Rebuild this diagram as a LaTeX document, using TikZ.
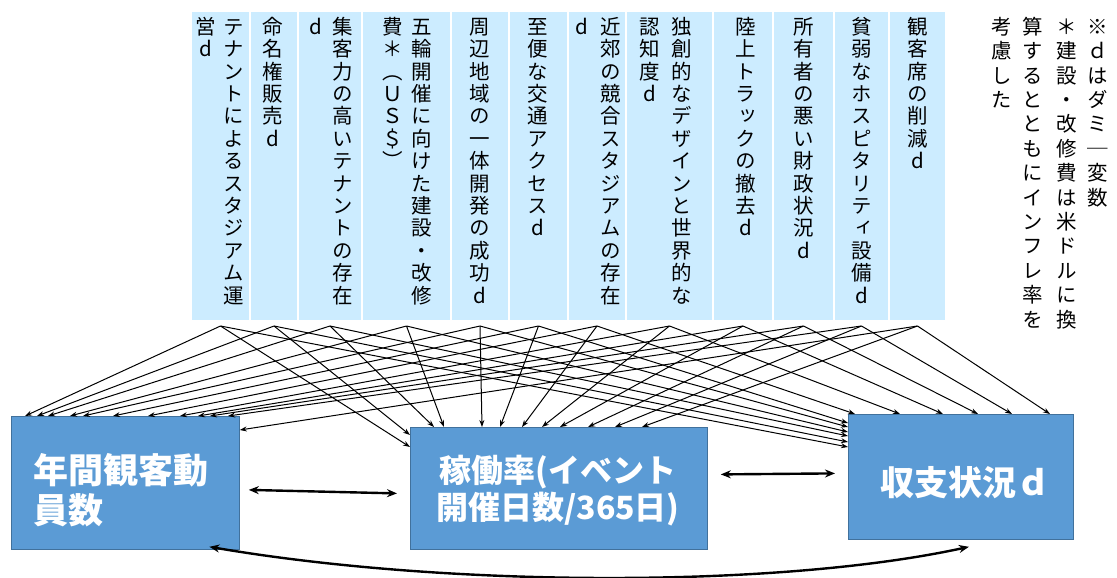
\documentclass[tikz,border=0pt]{standalone}
\usepackage{fontspec}
\setmainfont{Noto Sans CJK JP}
\newfontfamily\vjp[RawFeature=+vert]{Noto Sans CJK JP}
\usetikzlibrary{arrows.meta}
\definecolor{colblue}{RGB}{204,236,255}
\definecolor{boxblue}{RGB}{91,155,213}
\definecolor{boxedge}{RGB}{65,113,156}
\def\tateend{TATEEND}
\def\tateloop#1{\ifx\tateend#1\else\hbox to 1em{\hss\vrule height .88em depth .12em width 0pt\relax#1\hss}\expandafter\tateloop\fi}
\newcommand\tate[2][22.4pt]{\vtop{\baselineskip=#1\relax\lineskiplimit=-\maxdimen\lineskip=0pt\tateloop#2\tateend}}
\tikzset{
  colbox/.style={fill=colblue, draw=white, line width=2pt, inner sep=0pt, anchor=north west, minimum height=310pt},
  vt/.style={inner sep=0pt, anchor=north, font=\vjp\fontsize{20.5}{22}\selectfont},
  mainbox/.style={fill=boxblue, draw=boxedge, line width=0.8pt, inner sep=0pt, anchor=north west},
  boxtext/.style={text=white, inner sep=0pt},
  thinarr/.style={-{Stealth[length=7pt,width=5pt]}, line width=1pt},
  bigarr/.style={{Stealth[length=10pt,width=8pt]}-{Stealth[length=10pt,width=8pt]}, line width=2.4pt},
}
\begin{document}
\begin{tikzpicture}[x=1pt,y=-1pt]
\useasboundingbox (0,0) rectangle (1117,578);
% columns
\node[colbox,minimum width=59pt] (c1) at (190,10) {};
\node[colbox,minimum width=48pt] (c2) at (249,10) {};
\node[colbox,minimum width=64pt] (c3) at (297,10) {};
\node[colbox,minimum width=89pt] (c4) at (361,10) {};
\node[colbox,minimum width=58pt] (c5) at (450,10) {};
\node[colbox,minimum width=59pt] (c6) at (508,10) {};
\node[colbox,minimum width=58pt] (c7) at (567,10) {};
\node[colbox,minimum width=87pt] (c8) at (625,10) {};
\node[colbox,minimum width=60pt] (c9) at (712,10) {};
\node[colbox,minimum width=61pt] (c10) at (772,10) {};
\node[colbox,minimum width=55pt] (c11) at (833,10) {};
\node[colbox,minimum width=57pt] (c12) at (888,10) {};
% column texts
\node[vt] (t1a) at (234,16) {\tate{テナントによるスタジアム運}};
\node[vt] (t1b) at (206,16) {\tate{営d}};
\node[vt] (t2) at (273,16) {\tate{命名権販売d}};
\node[vt] (t3a) at (343,16) {\tate{集客力の高いテナントの存在}};
\node[vt] (t3b) at (316,16) {\tate{d}};
\node[vt] (t4a) at (422,16) {\tate{五輪開催に向けた建設・改修}};
\node[vt] (t4b) at (393,16) {\tate{費＊︵ＵＳ＄︶}};
\node[vt] (t5) at (480,16) {\tate{周辺地域の一体開発の成功d}};
\node[vt] (t6) at (538,16) {\tate{至便な交通アクセスd}};
\node[vt] (t7a) at (611,16) {\tate{近郊の競合スタジアムの存在}};
\node[vt] (t7b) at (582,16) {\tate{d}};
\node[vt] (t8a) at (682,16) {\tate{独創的なデザインと世界的な}};
\node[vt] (t8b) at (650,16) {\tate{認知度d}};
\node[vt] (t9) at (746,16) {\tate{陸上トラックの撤去d}};
\node[vt] (t10) at (804,16) {\tate{所有者の悪い財政状況d}};
\node[vt] (t11) at (862,16) {\tate{貧弱なホスピタリティ設備d}};
\node[vt] (t12) at (918,16) {\tate{観客席の削減d}};
% note
\node[vt] (n1) at (1098,16) {\tate[24.4pt]{※ｄはダミ｜変数}};
\node[vt] (n2) at (1067,16) {\tate[24.4pt]{＊建設・改修費は米ドルに換}};
\node[vt] (n3) at (1033,16) {\tate[24.4pt]{算するとともにインフレ率を}};
\node[vt] (n4) at (1002,16) {\tate[24.4pt]{考慮した}};
% main boxes
\node[mainbox,minimum width=228pt,minimum height=133pt] (A) at (11,416) {};
\node[mainbox,minimum width=297pt,minimum height=122pt] (B) at (410,427) {};
\node[mainbox,minimum width=225pt,minimum height=125pt] (C) at (848,414) {};
\node[boxtext,anchor=west,align=left,font=\bfseries\fontsize{35}{40}\selectfont] (At) at (33,490) {年間観客動\\員数};
\node[boxtext,align=center,font=\bfseries\fontsize{32}{37}\selectfont] (Bt) at (558,491) {稼働率(イベント\\開催日数/365日)};
\node[boxtext,font=\bfseries\fontsize{34}{40}\selectfont] (Ct) at (965,483) {収支状況ｄ};
% origins
\foreach \i in {1,...,12} { \coordinate (o\i) at ([yshift=-4pt]c\i.south); }
% endpoints at A
\coordinate (a1) at ([xshift=14pt]A.north west);
\coordinate (a2) at ([xshift=26pt]A.north west);
\coordinate (a3) at ([xshift=37pt]A.north west);
\coordinate (a4) at ([xshift=59pt]A.north west);
\coordinate (a5) at ([xshift=72pt]A.north west);
\coordinate (a6) at ([xshift=102pt]A.north west);
\coordinate (a7) at ([xshift=137pt]A.north west);
\coordinate (a8) at ([xshift=169pt]A.north west);
\coordinate (a9) at ([xshift=187pt]A.north west);
\coordinate (a10) at ([xshift=199pt]A.north west);
\coordinate (a11) at ([xshift=217pt]A.north west);
\coordinate (a12) at ([yshift=-14pt]A.north east);
% endpoints at B
\coordinate (b1) at ([yshift=-20pt]B.north west);
\coordinate (b2) at ([yshift=-8pt]B.north west);
\coordinate (b3) at ([xshift=24pt]B.north west);
\coordinate (b4) at ([xshift=34pt]B.north west);
\coordinate (b5) at ([xshift=72pt]B.north west);
\coordinate (b6) at ([xshift=90pt]B.north west);
\coordinate (b7) at ([xshift=112pt]B.north west);
\coordinate (b8) at ([xshift=132pt]B.north west);
\coordinate (b9) at ([xshift=150pt]B.north west);
\coordinate (b10) at ([xshift=178pt]B.north west);
\coordinate (b11) at ([xshift=205pt]B.north west);
\coordinate (b12) at ([xshift=232pt]B.north west);
% endpoints at C
\coordinate (e1) at ([yshift=-33pt]C.north west);
\coordinate (e2) at ([yshift=-28pt]C.north west);
\coordinate (e3) at ([yshift=-22pt]C.north west);
\coordinate (e4) at ([yshift=-18pt]C.north west);
\coordinate (e5) at ([yshift=-13pt]C.north west);
\coordinate (e6) at ([yshift=-9pt]C.north west);
\coordinate (e7) at ([xshift=7pt]C.north west);
\coordinate (e8) at ([xshift=52pt]C.north west);
\coordinate (e9) at ([xshift=95pt]C.north west);
\coordinate (e10) at ([xshift=130pt]C.north west);
\coordinate (e11) at ([xshift=164pt]C.north west);
\coordinate (e12) at ([xshift=202pt]C.north west);
\foreach \i in {1,...,12} {
  \draw[thinarr] (o\i) -- (a\i);
  \draw[thinarr] (o\i) -- (b\i);
  \draw[thinarr] (o\i) -- (e\i);
}
% links between boxes
\draw[bigarr] ([xshift=9pt,yshift=-7pt]A.east) -- ([xshift=-13pt,yshift=-5pt]B.west);
\draw[bigarr] ([xshift=13pt,yshift=14pt]B.east) -- ([xshift=-13pt,yshift=3.5pt]C.west);
\draw[bigarr] ([xshift=84pt,yshift=3pt]A.south) .. controls (450,588) and (780,588) .. ([xshift=8pt,yshift=-7pt]C.south);
\end{tikzpicture}
\end{document}
